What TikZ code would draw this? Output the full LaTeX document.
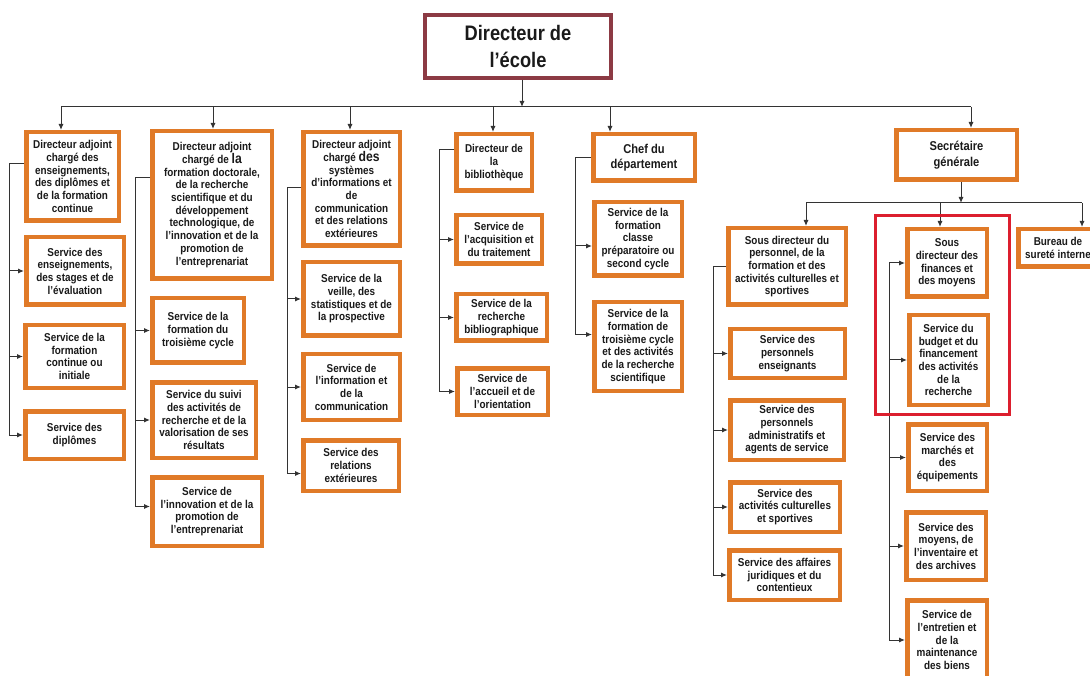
\documentclass[tikz,border=0pt]{standalone}
\usepackage{fontspec}
\setmainfont{Liberation Sans}[FakeStretch=0.87]
\usetikzlibrary{arrows.meta}
\definecolor{orng}{HTML}{E07A28}
\definecolor{topred}{HTML}{8C3A44}
\definecolor{hlred}{HTML}{DC1F2E}
\definecolor{lin}{HTML}{333333}
\definecolor{txt}{HTML}{1A1A1A}
\newcommand{\obox}[7][]{%
  \pgfmathsetmacro\bx{(#3+#5)/2}%
  \pgfmathsetmacro\by{(#4+#6)/2}%
  \pgfmathsetmacro\bw{#5-#3-4.5}%
  \pgfmathsetmacro\bh{#6-#4-4.5}%
  \node[obox,minimum width=\bw pt,minimum height=\bh pt,#1] (#2) at (\bx,\by) {#7};}
\newcommand{\bigw}[1]{{\fontsize{14}{12.7}\selectfont #1}}
\tikzset{
  obox/.style={draw=orng,line width=4.5pt,fill=white,align=center,inner sep=1pt,
    text=txt,font=\bfseries\fontsize{11.4}{12.7}\selectfont},
  bigfont/.style={font=\bfseries\fontsize{12.8}{15.6}\selectfont},
  topbox/.style={draw=topred,line width=4pt,font=\bfseries\fontsize{21}{27}\selectfont},
  ln/.style={draw=lin,line width=1pt},
  arr/.style={ln,-{Latex[length=6pt,width=5pt]}}
}
\begin{document}
\begin{tikzpicture}[x=1pt,y=-1pt]
\useasboundingbox (0,0) rectangle (1090,676);
\clip (0,0) rectangle (1090,676);
\fill[white] (0,0) rectangle (1090,676);

% boxes
\obox[topbox]{top}{423}{13}{613}{80}{Directeur de\\l’école}
\obox{c1b1}{24}{130}{121}{223}{Directeur adjoint\\chargé des\\enseignements,\\des diplômes et\\de la formation\\continue}
\obox{c1b2}{24}{235}{126}{307}{Service des\\enseignements,\\des stages et de\\l’évaluation}
\obox{c1b3}{23}{323}{126}{390}{Service de la\\formation\\continue ou\\initiale}
\obox{c1b4}{23}{409}{126}{461}{Service des\\diplômes}

\obox{c2b1}{150}{129}{274}{281}{Directeur adjoint\\chargé de \bigw{la}\\formation doctorale,\\de la recherche\\scientifique et du\\développement\\technologique, de\\l’innovation et de la\\promotion de\\l’entreprenariat}
\obox{c2b2}{150}{296}{246}{365}{Service de la\\formation du\\troisième cycle}
\obox{c2b3}{150}{380}{258}{460}{Service du suivi\\des activités de\\recherche et de la\\valorisation de ses\\résultats}
\obox{c2b4}{150}{475}{264}{548}{Service de\\l’innovation et de la\\promotion de\\l’entreprenariat}

\obox{c3b1}{301}{130}{402}{248}{Directeur adjoint\\chargé \bigw{des}\\systèmes\\d’informations et\\de\\communication\\et des relations\\extérieures}
\obox{c3b2}{301}{260}{402}{338}{Service de la\\veille, des\\statistiques et de\\la prospective}
\obox{c3b3}{301}{352}{402}{422}{Service de\\l’information et\\de la\\communication}
\obox{c3b4}{301}{438}{401}{493}{Service des\\relations\\extérieures}

\obox{c4b1}{454}{132}{534}{193}{Directeur de\\la\\bibliothèque}
\obox{c4b2}{454}{213}{544}{266}{Service de\\l’acquisition et\\du traitement}
\obox{c4b3}{454}{292}{549}{343}{Service de la\\recherche\\bibliographique}
\obox{c4b4}{455}{366}{550}{417}{Service de\\l’accueil et de\\l’orientation}

\obox[bigfont]{c5b1}{591}{132}{697}{183}{Chef du\\département}
\obox{c5b2}{592}{200}{684}{278}{Service de la\\formation\\classe\\préparatoire ou\\second cycle}
\obox{c5b3}{592}{300}{684}{393}{Service de la\\formation de\\troisième cycle\\et des activités\\de la recherche\\scientifique}

\obox[bigfont]{sec}{894}{128}{1019}{182}{Secrétaire\\générale}

\obox{sp1}{726}{226}{848}{307}{Sous directeur du\\personnel, de la\\formation et des\\activités culturelles et\\sportives}
\obox{sp2}{728}{327}{847}{380}{Service des\\personnels\\enseignants}
\obox{sp3}{728}{398}{846}{462}{Service des\\personnels\\administratifs et\\agents de service}
\obox{sp4}{728}{480}{842}{534}{Service des\\activités culturelles\\et sportives}
\obox{sp5}{727}{548}{842}{602}{Service des affaires\\juridiques et du\\contentieux}

\obox{sf1}{905}{227}{989}{299}{Sous\\directeur des\\finances et\\des moyens}
\obox{sf2}{907}{313}{990}{407}{Service du\\budget et du\\financement\\des activités\\de la\\recherche}
\obox{sf3}{906}{422}{989}{493}{Service des\\marchés et\\des\\équipements}
\obox{sf4}{904}{510}{988}{582}{Service des\\moyens, de\\l’inventaire et\\des archives}
\obox{sf5}{905}{598}{989}{682}{Service de\\l’entretien et\\de la\\maintenance\\des biens}

\obox{bur}{1016}{227}{1100}{269}{Bureau de\\sureté interne}

% top level bus
\coordinate (bt) at (522,107);
\draw[arr] (bt |- top.south) -- (bt);
\coordinate (d1) at (61,107);
\coordinate (d2) at (213,107);
\coordinate (d3) at (350,107);
\coordinate (d4) at (493,107);
\coordinate (d5) at (610,107);
\coordinate (d6) at (971,107);
\draw[ln] (d1) -- (d6);
\draw[arr] (d1) -- (d1 |- c1b1.north);
\draw[arr] (d2) -- (d2 |- c2b1.north);
\draw[arr] (d3) -- (d3 |- c3b1.north);
\draw[arr] (d4) -- (d4 |- c4b1.north);
\draw[arr] (d5) -- (d5 |- c5b1.north);
\draw[arr] (d6) -- (d6 |- sec.north);

% column 1
\coordinate (v1) at (9,164);
\draw[ln] (v1 -| c1b1.west) -- (v1) -- (v1 |- c1b4);
\draw[arr] (v1 |- c1b2) -- (c1b2.west);
\draw[arr] (v1 |- c1b3) -- (c1b3.west);
\draw[arr] (v1 |- c1b4) -- (c1b4.west);

% column 2
\coordinate (v2) at (135,178);
\path ([yshift=5pt]c2b4.west) coordinate (a24);
\draw[ln] (v2 -| c2b1.west) -- (v2) -- (v2 |- a24);
\draw[arr] (v2 |- c2b2) -- (c2b2.west);
\draw[arr] (v2 |- c2b3) -- (c2b3.west);
\draw[arr] (v2 |- a24) -- (a24);

% column 3
\coordinate (v3) at (287,188);
\path ([yshift=-8pt]c3b4.west) coordinate (a34);
\draw[ln] (v3 -| c3b1.west) -- (v3) -- (v3 |- a34);
\draw[arr] (v3 |- c3b2) -- (c3b2.west);
\draw[arr] (v3 |- c3b3) -- (c3b3.west);
\draw[arr] (v3 |- a34) -- (a34);

% column 4
\coordinate (v4) at (439,150);
\draw[ln] (v4 -| c4b1.west) -- (v4) -- (v4 |- c4b4);
\draw[arr] (v4 |- c4b2) -- (c4b2.west);
\draw[arr] (v4 |- c4b3) -- (c4b3.west);
\draw[arr] (v4 |- c4b4) -- (c4b4.west);

% column 5
\coordinate (v5) at (575,158);
\path ([yshift=-7pt]c5b2.west) coordinate (a52);
\path ([yshift=12pt]c5b3.west) coordinate (a53);
\draw[ln] (v5 -| c5b1.west) -- (v5) -- (v5 |- a53);
\draw[arr] (v5 |- a52) -- (a52);
\draw[arr] (v5 |- a53) -- (a53);

% secretaire
\coordinate (s0) at (961,203);
\draw[arr] (s0 |- sec.south) -- (s0);
\coordinate (e1) at (806,203);
\coordinate (e2) at (940,203);
\coordinate (e3) at (1082,203);
\draw[ln] (e1) -- (e3);
\draw[arr] (e1) -- (e1 |- sp1.north);
\draw[arr] (e2) -- (e2 |- sf1.north);
\draw[arr] (e3) -- (e3 |- bur.north);

% column 6
\coordinate (v6) at (713,267);
\draw[ln] (v6 -| sp1.west) -- (v6) -- (v6 |- sp5);
\draw[arr] (v6 |- sp2) -- (sp2.west);
\draw[arr] (v6 |- sp3) -- (sp3.west);
\draw[arr] (v6 |- sp4) -- (sp4.west);
\draw[arr] (v6 |- sp5) -- (sp5.west);

% column 7
\coordinate (v7) at (889,263);
\draw[ln] (v7) -- (v7 |- sf5);
\draw[arr] (v7 |- sf1) -- (sf1.west);
\draw[arr] (v7 |- sf2) -- (sf2.west);
\draw[arr] (v7 |- sf3) -- (sf3.west);
\draw[arr] (v7 |- sf4) -- (sf4.west);
\draw[arr] (v7 |- sf5) -- (sf5.west);

% highlight
\draw[hlred,line width=3pt] (875,216) rectangle (1009,414);
\end{tikzpicture}
\end{document}
